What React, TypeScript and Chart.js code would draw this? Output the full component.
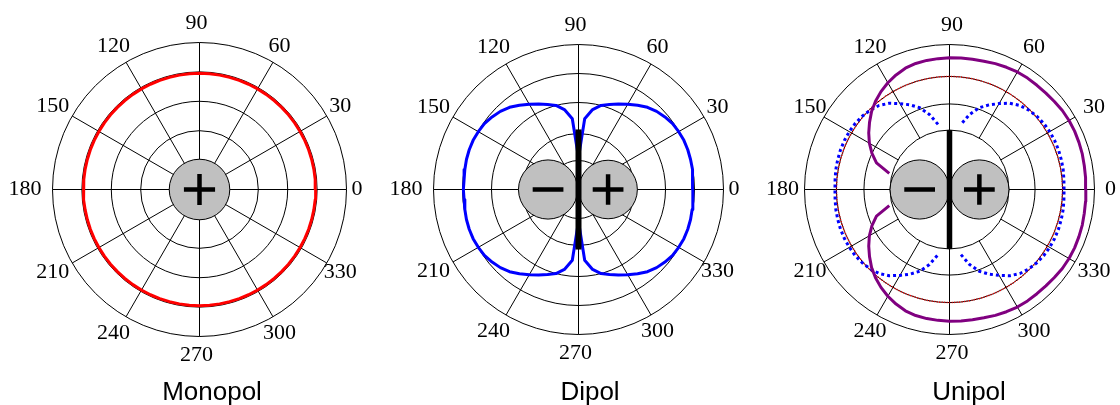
import React, { useEffect, useRef } from "react";
import { Chart, registerables } from "chart.js";

Chart.register(...registerables);

// ---------- data ----------
// sample angles (degrees) for the radiation patterns
const ANGLES: number[] = Array.from({ length: 72 }, (_, i) => i * 5);
// angular tick positions and their labels
const ANGLE_TICKS = [0, 30, 60, 90, 120, 150, 180, 210, 240, 270, 300, 330];
const ANGLE_TICK_LABELS = ["0", "30", "60", "90", "120", "150", "180", "210", "240", "270", "300", "330"];
const R_MAX = 5;
const TITLES = ["Monopol", "Dipol", "Unipol"];

// radial grid rings per panel
const RINGS_MONOPOL = [1, 2, 3, 4, 5];
const RINGS_DIPOL = [1, 1.93, 3, 4, 5];
const RINGS_UNIPOL = [2.05, 2.95, 3.9, 5];

// Monopol (red, solid)
const MONOPOL_R: (number | null)[] = [
  3.95, 3.95, 3.95, 3.95, 3.95, 3.95, 3.95, 3.95, 3.95, 3.95, 3.95, 3.95,
  3.95, 3.95, 3.95, 3.95, 3.95, 3.95, 3.95, 3.95, 3.95, 3.95, 3.95, 3.95,
  3.95, 3.95, 3.95, 3.95, 3.95, 3.95, 3.95, 3.95, 3.95, 3.95, 3.95, 3.95,
  3.95, 3.95, 3.95, 3.95, 3.95, 3.95, 3.95, 3.95, 3.95, 3.95, 3.95, 3.95,
  3.95, 3.95, 3.95, 3.95, 3.95, 3.95, 3.95, 3.95, 3.95, 3.95, 3.95, 3.95,
  3.95, 3.95, 3.95, 3.95, 3.95, 3.95, 3.95, 3.95, 3.95, 3.95, 3.95, 3.95,
];

// Dipol (blue, solid)
const DIPOL_R: (number | null)[] = [
  3.94, 3.96, 3.98, 4.0, 4.01, 4.01, 3.99, 3.96, 3.89, 3.81, 3.7, 3.55, 3.39, 3.25, 3.12, 3.0, 2.8, 2.45, 1.1,
  2.45, 2.8, 3.0, 3.12, 3.25, 3.39, 3.55, 3.7, 3.81, 3.89, 3.96, 3.99, 4.01, 4.01, 4.0, 3.98, 3.96,
  3.97,
  3.96, 3.98, 4.0, 4.01, 4.01, 3.99, 3.96, 3.89, 3.81, 3.7, 3.55, 3.39, 3.25, 3.12, 3.0, 2.8, 2.45,
  1.1,
  2.45, 2.8, 3.0, 3.12, 3.25, 3.39, 3.55, 3.7, 3.81, 3.89, 3.96, 3.99, 4.01, 4.01, 4.0, 3.98, 3.96,
];

// Unipol (purple, solid)
const UNIPOL_R: (number | null)[] = [
  4.7, 4.71, 4.72, 4.74, 4.75, 4.76, 4.76, 4.75, 4.72, 4.7, 4.69, 4.69, 4.68, 4.65, 4.62, 4.58, 4.56, 4.55, 4.54,
  4.53, 4.52, 4.5, 4.45, 4.36, 4.25, 4.12, 3.97, 3.8, 3.6, 3.4, 3.19, 2.95, 2.68, 2.15, null, null, null,
  null, null, 2.15, 2.68, 2.95, 3.19, 3.4, 3.6, 3.8, 3.97, 4.12, 4.25, 4.36, 4.45, 4.5, 4.52, 4.53,
  4.54, 4.55, 4.56, 4.58, 4.62, 4.65, 4.68, 4.69, 4.69, 4.7, 4.72, 4.75, 4.76, 4.76, 4.75, 4.74, 4.72, 4.71,
];

// Unipol monopole component (red, dotted)
const UNIPOL_MONO_R: (number | null)[] = [
  3.9, 3.9, 3.9, 3.9, 3.9, 3.9, 3.9, 3.9, 3.9, 3.9, 3.9, 3.9,
  3.9, 3.9, 3.9, 3.9, 3.9, 3.9, 3.9, 3.9, 3.9, 3.9, 3.9, 3.9,
  3.9, 3.9, 3.9, 3.9, 3.9, 3.9, 3.9, 3.9, 3.9, 3.9, 3.9, 3.9,
  3.9, 3.9, 3.9, 3.9, 3.9, 3.9, 3.9, 3.9, 3.9, 3.9, 3.9, 3.9,
  3.9, 3.9, 3.9, 3.9, 3.9, 3.9, 3.9, 3.9, 3.9, 3.9, 3.9, 3.9,
  3.9, 3.9, 3.9, 3.9, 3.9, 3.9, 3.9, 3.9, 3.9, 3.9, 3.9, 3.9,
];

// Unipol dipole component (blue, dotted)
const UNIPOL_DIPOL_R: (number | null)[] = [
  3.95, 3.96, 3.98, 3.99, 4.0, 4.0, 3.99, 3.97, 3.93, 3.87, 3.78, 3.63, 3.42, 3.22, 3.0, 2.68, 2.28, null, null,
  null, 2.28, 2.68, 3.0, 3.22, 3.42, 3.63, 3.78, 3.87, 3.93, 3.97, 3.99, 4.0, 4.0, 3.99, 3.98, 3.96,
  3.95,
  3.96, 3.98, 3.99, 4.0, 4.0, 3.99, 3.97, 3.93, 3.87, 3.78, 3.63, 3.42, 3.22, 3.0, 2.68, 2.28, null,
  null,
  null, 2.28, 2.68, 3.0, 3.22, 3.42, 3.63, 3.78, 3.87, 3.93, 3.97, 3.99, 4.0, 4.0, 3.99, 3.98, 3.96,
];

// ---------- layout / style ----------
type Pole = { x: number; r: number; sign: "+" | "-" };
type Series = { values: (number | null)[]; color: string; width: number; dash: number[] };
interface PanelCfg {
  title: string;
  left: number;
  width: number;
  cx: number;
  cy: number;
  R: number;
  titleX: number;
  labelShiftX: number;
  rings: number[];
  spokeFrom: number;
  poles: Pole[];
  bar: number | null;
  barWidth: number;
  series: Series[];
}

const H = 405;

const PANELS: PanelCfg[] = [
  {
    title: TITLES[0],
    left: 0,
    width: 373,
    cx: 199.5,
    cy: 189.5,
    R: 147,
    titleX: 212,
    labelShiftX: -3,
    rings: RINGS_MONOPOL,
    spokeFrom: 0,
    poles: [{ x: 0, r: 1.03, sign: "+" }],
    bar: null,
    barWidth: 0,
    series: [{ values: MONOPOL_R, color: "#ff0000", width: 3, dash: [] }],
  },
  {
    title: TITLES[1],
    left: 373,
    width: 374,
    cx: 205.5,
    cy: 189.5,
    R: 145,
    titleX: 217,
    labelShiftX: -3,
    rings: RINGS_DIPOL,
    spokeFrom: 0,
    poles: [
      { x: -1.05, r: 1.02, sign: "-" },
      { x: 1.02, r: 1.01, sign: "+" },
    ],
    bar: 2.07,
    barWidth: 6,
    series: [{ values: DIPOL_R, color: "#0000ff", width: 3, dash: [] }],
  },
  {
    title: TITLES[2],
    left: 747,
    width: 373,
    cx: 202.5,
    cy: 189.5,
    R: 145,
    titleX: 222,
    labelShiftX: 2.5,
    rings: RINGS_UNIPOL,
    spokeFrom: 2.05,
    poles: [
      { x: -1.03, r: 1.02, sign: "-" },
      { x: 1.03, r: 1.02, sign: "+" },
    ],
    bar: 2.05,
    barWidth: 5.5,
    series: [
      { values: UNIPOL_R, color: "#800080", width: 3, dash: [] },
      { values: UNIPOL_DIPOL_R, color: "#0000ff", width: 3, dash: [3, 3] },
      { values: UNIPOL_MONO_R, color: "#ff0000", width: 1.5, dash: [1, 1.5] },
    ],
  },
];

function toPoints(values: (number | null)[]) {
  const pts = ANGLES.map((a, i) => {
    const r = values[i];
    if (r === null || r === undefined) return { x: null as any, y: null as any };
    const t = (a * Math.PI) / 180;
    return { x: r * Math.cos(t), y: r * Math.sin(t) };
  });
  pts.push(pts[0]); // close the loop
  return pts;
}

function decorPlugin(p: PanelCfg) {
  const geo = (chart: any) => {
    const sx = chart.scales.x;
    const sy = chart.scales.y;
    const X = (v: number) => sx.getPixelForValue(v);
    const Y = (v: number) => sy.getPixelForValue(v);
    const unit = X(1) - X(0);
    return { X, Y, unit, cx: X(0), cy: Y(0) };
  };
  return {
    id: "polarDecor",
    beforeDatasetsDraw(chart: any) {
      const { ctx } = chart;
      const { X, Y, unit, cx, cy } = geo(chart);
      ctx.save();
      ctx.strokeStyle = "#000";
      ctx.lineWidth = 1;
      for (const r of p.rings) {
        ctx.beginPath();
        ctx.arc(cx, cy, r * unit, 0, Math.PI * 2);
        ctx.stroke();
      }
      for (const a of ANGLE_TICKS) {
        const t = (a * Math.PI) / 180;
        ctx.beginPath();
        ctx.moveTo(X(p.spokeFrom * Math.cos(t)), Y(p.spokeFrom * Math.sin(t)));
        ctx.lineTo(X(R_MAX * Math.cos(t)), Y(R_MAX * Math.sin(t)));
        ctx.stroke();
      }
      ctx.restore();
    },
    afterDatasetsDraw(chart: any) {
      const { ctx } = chart;
      const { X, Y, unit } = geo(chart);
      ctx.save();
      for (const pole of p.poles) {
        ctx.beginPath();
        ctx.arc(X(pole.x), Y(0), pole.r * unit, 0, Math.PI * 2);
        ctx.fillStyle = "#c0c0c0";
        ctx.fill();
        ctx.lineWidth = 1;
        ctx.strokeStyle = "#000";
        ctx.stroke();
      }
      if (p.bar !== null) {
        ctx.fillStyle = "#000";
        const top = Y(p.bar);
        const bot = Y(-p.bar);
        ctx.fillRect(X(0) - p.barWidth / 2, top, p.barWidth, bot - top);
      }
      ctx.strokeStyle = "#000";
      ctx.lineWidth = 4.5;
      ctx.lineCap = "butt";
      const arm = 0.53;
      for (const pole of p.poles) {
        ctx.beginPath();
        ctx.moveTo(X(pole.x - arm), Y(0));
        ctx.lineTo(X(pole.x + arm), Y(0));
        if (pole.sign === "+") {
          ctx.moveTo(X(pole.x), Y(arm));
          ctx.lineTo(X(pole.x), Y(-arm));
        }
        ctx.stroke();
      }
      ctx.restore();
    },
    afterDraw(chart: any) {
      const { ctx } = chart;
      const { unit, cx, cy } = geo(chart);
      const rl = R_MAX * unit + 19;
      ctx.save();
      ctx.fillStyle = "#000";
      ctx.font = '22px "Liberation Serif", "Times New Roman", serif';
      ctx.textAlign = "center";
      ctx.textBaseline = "alphabetic";
      ANGLE_TICKS.forEach((a, i) => {
        const t = (a * Math.PI) / 180;
        const horiz = Math.abs(Math.sin(t)) < 0.01;
        const lx = cx + rl * Math.cos(t) + p.labelShiftX + (horiz ? -5.5 : 0);
        const ly = cy - rl * Math.sin(t) - 1.5 + 7.4;
        ctx.fillText(ANGLE_TICK_LABELS[i], lx, ly);
      });
      ctx.font = '26px "Liberation Sans", Arial, sans-serif';
      ctx.fillText(p.title, p.titleX, 400);
      ctx.restore();
    },
  };
}

function PolarPanel({ panel }: { panel: PanelCfg }) {
  const ref = useRef<HTMLCanvasElement>(null);
  useEffect(() => {
    const canvas = ref.current;
    if (!canvas) return;
    const chart = new Chart(canvas, {
      type: "scatter",
      data: {
        datasets: panel.series.map((s) => ({
          data: toPoints(s.values),
          showLine: true,
          borderColor: s.color,
          backgroundColor: s.color,
          borderWidth: s.width,
          borderDash: s.dash,
          borderCapStyle: "butt",
          borderJoinStyle: "round",
          pointRadius: 0,
          pointHoverRadius: 0,
          tension: 0,
          spanGaps: false,
          fill: false,
          clip: false,
        })) as any,
      },
      options: {
        animation: false,
        responsive: false,
        maintainAspectRatio: false,
        devicePixelRatio: 1,
        events: [],
        layout: {
          padding: {
            left: panel.cx - panel.R,
            right: panel.width - panel.cx - panel.R,
            top: panel.cy - panel.R,
            bottom: H - panel.cy - panel.R,
          },
        },
        scales: {
          x: { type: "linear", min: -R_MAX, max: R_MAX, display: false },
          y: { type: "linear", min: -R_MAX, max: R_MAX, display: false },
        },
        plugins: {
          legend: { display: false },
          tooltip: { enabled: false },
          title: { display: false },
        },
      } as any,
      plugins: [decorPlugin(panel)],
    });
    return () => chart.destroy();
  }, [panel]);
  return (
    <canvas
      ref={ref}
      width={panel.width}
      height={H}
      style={{ position: "absolute", left: panel.left, top: 0, width: panel.width, height: H }}
    />
  );
}

export default function App() {
  return (
    <div style={{ position: "absolute", left: 0, top: 0, width: 1120, height: H, background: "#fff", overflow: "hidden" }}>
      {PANELS.map((p) => (
        <PolarPanel key={p.title} panel={p} />
      ))}
    </div>
  );
}
